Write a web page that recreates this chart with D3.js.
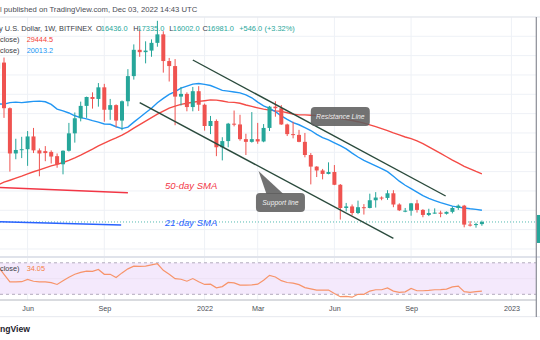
<!DOCTYPE html>
<html><head><meta charset="utf-8">
<script src="https://cdn.jsdelivr.net/npm/d3@7"></script>
<style>
body{margin:0;background:#fff;}
svg{display:block;font-family:"Liberation Sans",Arial,sans-serif;}
</style>
</head><body>
<svg id="c" width="540" height="340"></svg>
<script>
// ---------------- DATA ----------------
const firstWeek = "2021-05-03", lastWeek = "2022-11-28";
const open  = [56600,58200,46400,34700,35600,35800,39100,35500,35300,35100,34000,31900,35400,39900,43800,47000,49300,48800,51800,46000,47200,43200,48200,54700,61500,60900,61300,63300,65500,58600,57300,49400,50100,46700,50800,47300,41800,43100,36300,37900,42400,42200,38400,37700,38400,37800,41300,46800,46400,42200,39700,39500,37700,34300,31300,30300,29400,29900,26600,20600,21000,19300,20800,20600,22600,23300,23200,24400,21500,19750,19900,21800,20100,18800,19300,19400,19100,19600,20600,21200,16300,16280,16436];
const high  = [59600,59500,46600,38500,39000,40500,41300,36000,36600,35500,34700,35500,42600,45300,48100,49400,50500,52900,52700,48800,47400,48400,56500,62900,67000,63700,64200,69000,66300,59400,59100,51900,50500,51900,52100,47600,44400,43500,38900,42600,45800,44700,39800,45400,42600,42300,47000,48200,47200,42400,42900,40800,40000,34800,31400,30700,32400,31700,26800,21900,21500,22500,21600,24300,24700,23600,25200,25200,21800,20600,21900,22700,20300,20400,20500,19900,19700,21000,21500,21400,17200,16800,17335];
const low   = [53000,43900,30000,33200,33500,31500,34800,28800,32700,32100,31000,29300,35200,37500,43000,43900,46300,46800,42900,43400,41500,40700,46900,53800,59700,58000,59700,62300,55600,53300,42000,47100,45600,45600,45700,40600,39700,34000,32900,36300,41700,38000,34300,37500,37200,37600,40500,44200,42100,39200,38600,37600,33700,26700,28600,28000,29300,26500,17600,19700,18700,19000,18900,20500,20700,22600,22700,20800,19800,19500,18600,19400,18200,18500,19100,18200,18900,19200,20100,15600,15800,15500,16002];
const close = [58200,46400,34700,35600,35800,39100,35500,34700,34800,33900,31900,35400,39900,43800,47000,49300,48800,51800,46000,47200,43200,48200,54700,61500,60900,61300,63300,65500,58600,57300,49400,50100,46700,50800,47300,41800,43100,36300,37900,42400,42200,38400,37700,38400,37800,41300,46800,46400,42200,39700,39500,37700,34300,31300,30300,29400,29900,26600,20600,21000,19300,20800,20600,22600,23300,23200,24400,21500,20000,19900,21800,20100,18800,19300,19400,19100,19600,20600,21200,16300,16280,16436,16981];
const sma21 = [47500,47448,47848,47971,47857,48014,48167,48243,48071,47386,46167,45700,45171,44448,43948,43638,43200,42819,42333,42243,41605,41129,41524,42800,44005,45219,46371,47800,48938,49986,50710,51581,52119,52638,52805,52557,52262,51667,51005,50833,50595,50367,49867,49090,47962,47029,46338,45533,44424,43524,42676,42119,41367,40633,39657,38805,38238,37452,36705,35900,34800,33781,32933,32214,31495,30800,29995,28790,27533,26471,25619,24695,23795,23081,22514,21981,21514,21071,20814,20610,20385,20248,20013.2];
const sma50 = [26541,27280,27780,28304,28834,29434,29962,30470,30992,31478,31892,32366,32926,33569,34275,35055,35825,36639,37343,38073,38709,39443,40277,41231,42139,43047,43945,44861,45650,46412,46924,47400,47674,47926,48156,48346,48546,48494,48280,47980,47920,47668,47242,46860,46500,46166,45906,45710,45572,45234,44860,44686,44678,44592,44482,44288,44176,44014,43720,43456,43206,42914,42528,42104,41630,41108,40620,40014,39494,38948,38520,37958,37240,36396,35566,34722,33848,32950,32202,31382,30720,30046,29444.5];
const rsi = [65.4,55.4,45.8,45.8,46,48.8,46.6,45.8,45.8,44.8,42.5,47.3,51.6,55.4,57.9,59.5,59.1,61.6,55.4,55.4,51.3,57.2,62.3,65.8,65.4,65.8,67.3,68.8,60.4,55.4,49.8,49.1,46.6,50,46,42.5,42.9,38.3,39.8,45,44.4,41.6,41.6,41.9,42.9,47.9,54.1,52,47.3,45,44.1,42.3,38.5,36.9,35.4,35.4,35.4,31,27,27.3,26.3,30,30,34.1,35.8,35.8,38.1,34.1,32.5,33.1,37.5,34.5,34.5,35,35.8,36,36.6,39.5,40.4,33.3,32.5,33.3,34.05];
const priceGrid = [10000,15000,20000,25000,30000,35000,40000,45000,50000,55000,60000,65000,70000];
const timeTicks = ["2021-06-07","2021-09-06","2022-01-03","2022-03-07","2022-06-06","2022-09-05","2023-01-02"];
const timeTickLabels = ["Jun","Sep","2022","Mar","Jun","Sep","2023"];
const rsiBands = [70,30];
// drawings (date, price anchors)
const channelLines = [
  {d0:"2021-12-20", p0:58868, d1:"2022-10-16", p1:23698},
  {d0:"2021-10-18", p0:47825, d1:"2022-08-15", p1:12759}
];
const legendLines = [
  {d0:"2021-05-03", p0:25922, d1:"2021-10-04", p1:24551, color:"#f23645"},
  {d0:"2021-05-03", p0:17065, d1:"2021-09-26", p1:16199, color:"#2962ff"}
];
const legendTexts = [
  {text:"50-day SMA", d:"2021-11-17", p:25379, color:"#f23645"},
  {text:"21-day SMA", d:"2021-11-17", p:15811, color:"#2962ff"}
];
const callouts = [
  {text:"Resistance Line", d:"2022-06-13", p:44257, w:59, h:19},
  {text:"Support line", d:"2022-04-03", p:22017, w:49, h:19, tipD:"2022-03-08", tipP:30163}
];

// ---------------- SCALES ----------------
const parse = d3.utcParse("%Y-%m-%d");
const weeks = d3.utcMonday.range(parse(firstWeek), d3.utcDay.offset(parse(lastWeek), 1));
const x = d3.scaleUtc().domain([parse(firstWeek), parse(lastWeek)]).range([-1.9, 481.9]);
const y = d3.scaleLinear().domain([20000, 70000]).range([210.3, 16.95]);
const yR = d3.scaleLinear().domain([30, 70]).range([294.3, 262.8]);

const TEAL = "#26a69a", RED = "#ef5350", DARK = "#3b3e47";
const paneR = 536;
const svg = d3.select("#c");
svg.append("rect").attr("width",540).attr("height",340).attr("fill","#fff");

const defs = svg.append("defs");
defs.append("clipPath").attr("id","mainClip").append("rect").attr("x",0).attr("y",17).attr("width",paneR).attr("height",239);
defs.append("clipPath").attr("id","rsiClip").append("rect").attr("x",0).attr("y",258).attr("width",paneR).attr("height",42);

// header
svg.append("text").attr("x",0).attr("y",11.8).attr("font-size",7.7).attr("fill","#4a4d55")
  .text("l published on TradingView.com, Dec 03, 2022 14:43 UTC");

// grid
const grid = svg.append("g");
grid.selectAll("line.h").data(priceGrid).join("line")
  .attr("x1",0).attr("x2",paneR).attr("y1",d=>y(d)).attr("y2",d=>y(d))
  .attr("stroke","#eef1f6").attr("stroke-width",1);
grid.selectAll("line.v").data(timeTicks).join("line")
  .attr("x1",d=>x(parse(d))).attr("x2",d=>x(parse(d))).attr("y1",17).attr("y2",300)
  .attr("stroke","#eef1f6").attr("stroke-width",1);
// pane top border
svg.append("line").attr("x1",0).attr("x2",540).attr("y1",17).attr("y2",17).attr("stroke","#e3e6ec");

const main = svg.append("g").attr("clip-path","url(#mainClip)");

// current price dotted line
main.append("line").attr("x1",0).attr("x2",paneR).attr("y1",y(close[close.length-1])).attr("y2",y(close[close.length-1]))
  .attr("stroke",TEAL).attr("stroke-width",0.8).attr("stroke-dasharray","1,2");

// SMA lines
const lineGen = d3.line().x((d,i)=>x(weeks[i])).y(d=>y(d));
main.append("path").attr("d",lineGen(sma50)).attr("fill","none").attr("stroke","#f44b46").attr("stroke-width",1.4);
main.append("path").attr("d",lineGen(sma21)).attr("fill","none").attr("stroke","#2196f3").attr("stroke-width",1.4);

// candles
const candles = weeks.map((d,i)=>({date:d,o:open[i],h:high[i],l:low[i],c:close[i]}));
const cg = main.selectAll("g.candle").data(candles).join("g");
const col = d=> d.c>=d.o ? TEAL : RED;
cg.append("line").attr("x1",d=>x(d.date)).attr("x2",d=>x(d.date))
  .attr("y1",d=>y(d.h)).attr("y2",d=>y(d.l)).attr("stroke",col).attr("stroke-width",1);
cg.append("rect").attr("x",d=>x(d.date)-2).attr("width",4)
  .attr("y",d=>y(Math.max(d.o,d.c))).attr("height",d=>Math.max(1,Math.abs(y(d.o)-y(d.c)))).attr("fill",col);

// channel lines
main.selectAll("line.ch").data(channelLines).join("line")
  .attr("x1",d=>x(parse(d.d0))).attr("y1",d=>y(d.p0)).attr("x2",d=>x(parse(d.d1))).attr("y2",d=>y(d.p1))
  .attr("stroke","#2a4a3c").attr("stroke-width",1.4);

// legend lines and texts
main.selectAll("line.lg").data(legendLines).join("line")
  .attr("x1",d=>x(parse(d.d0))).attr("y1",d=>y(d.p0)).attr("x2",d=>x(parse(d.d1))).attr("y2",d=>y(d.p1))
  .attr("stroke",d=>d.color).attr("stroke-width",1.4);
main.selectAll("text.lg").data(legendTexts).join("text")
  .attr("x",d=>x(parse(d.d))).attr("y",d=>y(d.p)).attr("fill",d=>d.color)
  .attr("font-size",9.5).attr("font-style","italic").text(d=>d.text);

// callouts
callouts.forEach(c=>{
  const cx = x(parse(c.d)), cy = y(c.p);
  const g = main.append("g");
  if (c.tipD) {
    const tx = x(parse(c.tipD)), ty = y(c.tipP);
    const top = cy - c.h/2;
    g.append("path").attr("d",`M${tx},${ty}L${cx-14},${top+1}L${cx+3},${top+1}Z`).attr("fill","rgba(95,95,95,0.88)");
  }
  g.append("rect").attr("x",cx-c.w/2).attr("y",cy-c.h/2).attr("width",c.w).attr("height",c.h).attr("rx",4)
    .attr("fill","rgba(95,95,95,0.88)");
  g.append("text").attr("x",cx).attr("y",cy+2.4).attr("text-anchor","middle").attr("fill","#f0f0f0")
    .attr("font-size",6.8).attr("font-style","italic").text(c.text);
});

// legend (top-left)
const fmt = d3.format(".1f");
const n = close.length-1;
const row1 = [
  {t:"y U.S. Dollar, 1W, BITFINEX", x:-1, c:DARK},
  {t:"O", x:96, c:DARK},{t:fmt(open[n]), x:100.8, c:TEAL},
  {t:"H", x:133.2, c:DARK},{t:fmt(high[n]), x:137.6, c:TEAL},
  {t:"L", x:169.3, c:DARK},{t:fmt(low[n]), x:172.8, c:TEAL},
  {t:"C", x:202.6, c:DARK},{t:fmt(close[n]), x:207.2, c:TEAL},
  {t:"+546.0", x:239.3, c:TEAL},{t:"(+3.32%)", x:264.5, c:TEAL}
];
svg.selectAll("text.r1").data(row1).join("text").attr("x",d=>d.x).attr("y",30.5)
  .attr("font-size",7.4).attr("fill",d=>d.c).text(d=>d.t);
const row23 = [
  {t:"close)", x:0, y:42, c:DARK},{t:fmt(sma50[n]), x:26.7, y:42, c:"#f44336"},
  {t:"close)", x:0, y:52.6, c:DARK},{t:fmt(sma21[n]), x:26.7, y:52.6, c:"#2196f3"}
];
svg.selectAll("text.r2").data(row23).join("text").attr("x",d=>d.x).attr("y",d=>d.y)
  .attr("font-size",7.3).attr("fill",d=>d.c).text(d=>d.t);

// separator
svg.append("line").attr("x1",0).attr("x2",540).attr("y1",257).attr("y2",257).attr("stroke","#e0e3eb").attr("stroke-width",2);

// RSI pane
const rp = svg.append("g").attr("clip-path","url(#rsiClip)");
rp.append("rect").attr("x",0).attr("width",paneR).attr("y",yR(70)).attr("height",yR(30)-yR(70)).attr("fill","#f4e9fc");
rp.append("line").attr("x1",0).attr("x2",paneR).attr("y1",yR(50)).attr("y2",yR(50)).attr("stroke","#ebe1f3").attr("stroke-width",0.8);
rp.selectAll("line.band").data(rsiBands).join("line")
  .attr("x1",0).attr("x2",paneR).attr("y1",d=>yR(d)).attr("y2",d=>yR(d))
  .attr("stroke","#aaa3b5").attr("stroke-width",0.9).attr("stroke-dasharray","3,3");
rp.append("path").attr("d",d3.line().x((d,i)=>x(weeks[i])).y(d=>yR(d))(rsi))
  .attr("fill","none").attr("stroke","#f7946a").attr("stroke-width",1.2);
svg.append("text").attr("x",0).attr("y",271).attr("font-size",7.3).attr("fill",DARK).text("close)");
svg.append("text").attr("x",26.7).attr("y",271).attr("font-size",7.3).attr("fill","#f5813f").text(d3.format(".2f")(rsi[n]));

// bottom axis
svg.append("line").attr("x1",0).attr("x2",paneR).attr("y1",300).attr("y2",300).attr("stroke","#b4b7c0").attr("stroke-width",1);
const xAxis = d3.axisBottom(x).tickValues(timeTicks.map(parse)).tickFormat((d,i)=>timeTickLabels[i]).tickSize(0).tickPadding(0);
const ax = svg.append("g").attr("transform","translate(0,306)").call(xAxis);
ax.select(".domain").remove();
ax.selectAll("text").attr("font-size",7.2).attr("fill","#4a4d55").attr("font-family","Liberation Sans, Arial, sans-serif");
svg.append("line").attr("x1",0).attr("x2",540).attr("y1",316.7).attr("y2",316.7).attr("stroke","#e6e8ee").attr("stroke-width",1);

// right border + price label
svg.append("line").attr("x1",536.3).attr("x2",536.3).attr("y1",17).attr("y2",317).attr("stroke","#8a8d96").attr("stroke-width",1.2);
svg.append("rect").attr("x",537).attr("y",y(close[n])-7).attr("width",3).attr("height",28).attr("fill",TEAL);

// footer
svg.append("text").attr("x",0).attr("y",331.5).attr("font-size",8.6).attr("font-weight","bold").attr("fill","#1e222d").text("ngView");
</script>
</body></html>
